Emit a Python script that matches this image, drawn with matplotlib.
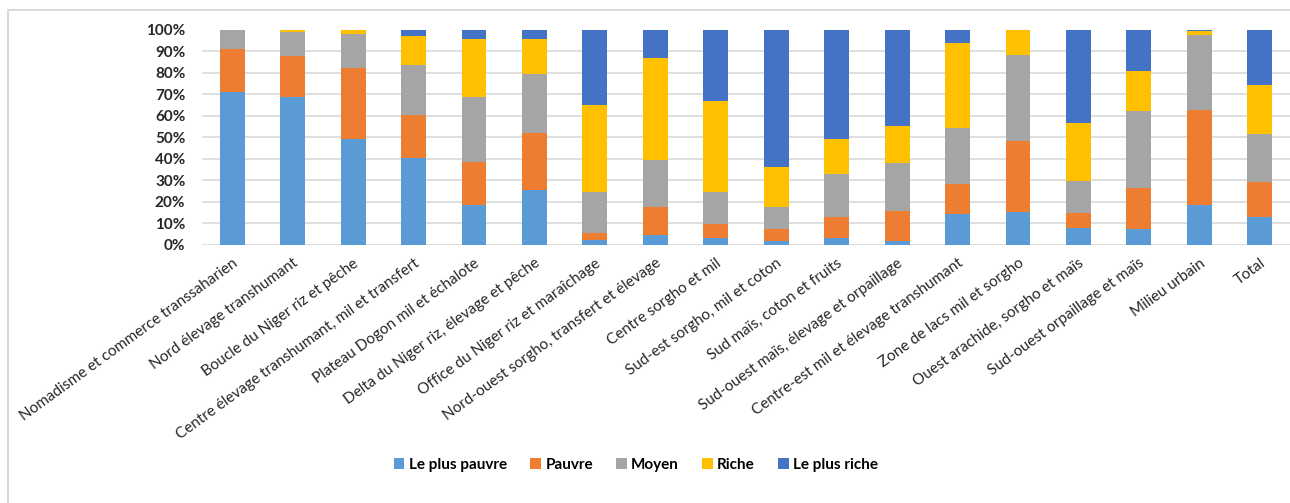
import matplotlib
matplotlib.use("Agg")
import matplotlib.pyplot as plt
from matplotlib.patches import Rectangle
import numpy as np

categories = [
    "Nomadisme et commerce transsaharien",
    "Nord élevage transhumant",
    "Boucle du Niger riz et pêche",
    "Centre élevage transhumant, mil et transfert",
    "Plateau Dogon mil et échalote",
    "Delta du Niger riz, élevage et pêche",
    "Office du Niger riz et maraîchage",
    "Nord-ouest sorgho, transfert et élevage",
    "Centre sorgho et mil",
    "Sud-est sorgho, mil et coton",
    "Sud maïs, coton et fruits",
    "Sud-ouest maïs, élevage et orpaillage",
    "Centre-est mil et élevage transhumant",
    "Zone de lacs mil et sorgho",
    "Ouest arachide, sorgho et maïs",
    "Sud-ouest orpaillage et maïs",
    "Milieu urbain",
    "Total",
]

series_names = ["Le plus pauvre", "Pauvre", "Moyen", "Riche", "Le plus riche"]

le_plus_pauvre = [71.0, 68.5, 49.0, 40.6, 18.5, 25.5, 2.5, 4.8, 3.4, 1.9, 3.4, 1.9, 14.2, 15.3, 7.9, 7.3, 18.5, 12.8]
pauvre =         [20.0, 19.0, 33.2, 19.5, 20.1, 26.3, 2.9, 12.8, 6.5, 5.4, 9.7, 13.9, 14.2, 32.9, 6.8, 19.1, 44.1, 16.6]
moyen =          [9.0, 11.3, 15.6, 23.5, 30.0, 27.5, 19.0, 22.0, 14.5, 10.3, 19.7, 22.2, 25.9, 39.9, 15.0, 35.7, 34.8, 21.9]
riche =          [0.0, 1.2, 1.9, 13.2, 27.2, 16.5, 40.5, 47.4, 42.5, 18.6, 16.2, 17.2, 39.5, 11.9, 26.9, 18.6, 1.8, 22.9]
le_plus_riche =  [0.0, 0.0, 0.3, 3.2, 4.2, 4.2, 35.1, 13.0, 33.1, 63.8, 51.0, 44.8, 6.2, 0.0, 43.4, 19.3, 0.8, 25.8]

yticks = [0, 10, 20, 30, 40, 50, 60, 70, 80, 90, 100]
ytick_labels = [f"{v}%" for v in yticks]

colors = ["#5B9BD5", "#ED7D31", "#A5A5A5", "#FFC000", "#4472C4"]

plt.rcParams['font.family'] = ['Lato', 'DejaVu Sans']

fig = plt.figure(figsize=(12.9, 5.03), dpi=100)
ax = fig.add_axes([202/1290, 1-245/503, 1.0-202/1290, (245-29.5)/503])

data = [le_plus_pauvre, pauvre, moyen, riche, le_plus_riche]
x = np.arange(len(categories))
bottom = np.zeros(len(categories))
for name, vals, c in zip(series_names, data, colors):
    vals = np.array(vals, dtype=float)
    ax.bar(x, vals, 0.41, bottom=bottom, color=c, label=name, zorder=3)
    bottom += vals

ax.set_xlim(-0.5, len(categories) - 0.5)
ax.set_ylim(0, 100)
ax.set_yticks(yticks)
ax.set_yticklabels(ytick_labels, fontsize=11, fontweight='bold', color='#262626')
ax.set_xticks(x)
ax.set_xticklabels(categories, rotation=36, ha='right', rotation_mode='anchor',
                   fontsize=11, color='#262626')
ax.tick_params(axis='both', length=0)
ax.tick_params(axis='y', pad=12)
ax.tick_params(axis='x', pad=8)
ax.grid(axis='y', color='#D9D9D9', linewidth=1.2, zorder=0)
for s in ax.spines.values():
    s.set_visible(False)

handles, labels = ax.get_legend_handles_labels()
fig.legend(handles, labels, loc='center', bbox_to_anchor=(0.493, 1-465/503), ncol=5,
           frameon=False, prop={'size': 11, 'weight': 'bold'},
           handlelength=0.7, handleheight=0.7, columnspacing=1.5, handletextpad=0.3)

fig.patches.append(Rectangle((8/1290, -0.01), 1.0, 1-10/503 + 0.01, transform=fig.transFigure,
                             fill=False, edgecolor='#D9D9D9', linewidth=1.5))

fig.savefig("out.png", dpi=100)
